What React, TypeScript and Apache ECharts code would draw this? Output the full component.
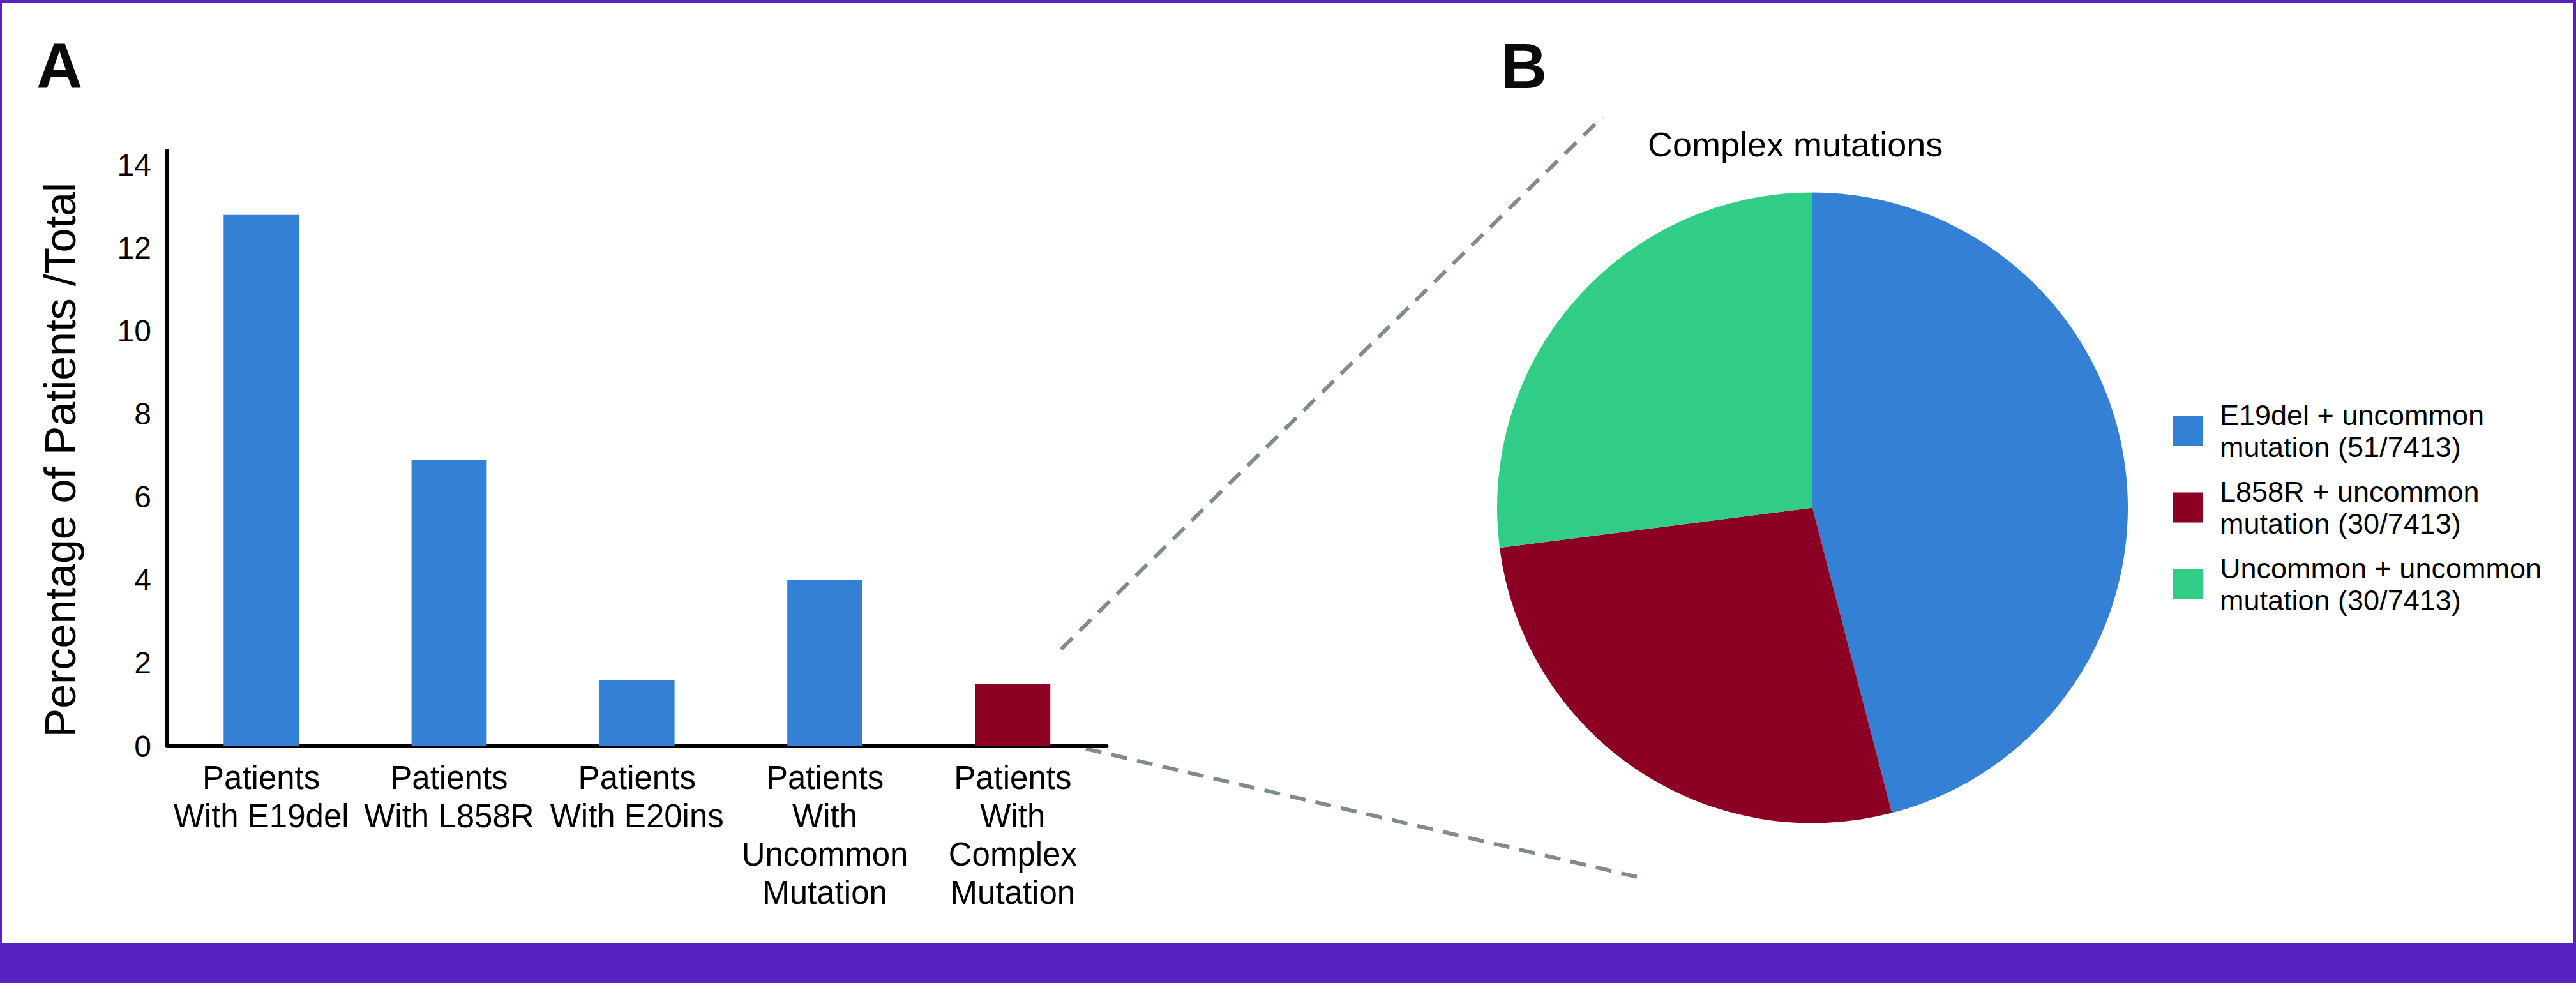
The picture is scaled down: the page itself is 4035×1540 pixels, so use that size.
import React, { useEffect, useRef } from "react";
import * as echarts from "echarts";

// ---- Data ----
const categories = [
  "Patients\nWith E19del",
  "Patients\nWith L858R",
  "Patients\nWith E20ins",
  "Patients\nWith\nUncommon\nMutation",
  "Patients\nWith\nComplex\nMutation",
];
const percentValues = [12.8, 6.9, 1.6, 4.0, 1.5];
const barColors = ["#3480d4", "#3480d4", "#3480d4", "#3480d4", "#8c0023"];
const yAxisTitle = "Percentage of Patients /Total";

const pieTitle = "Complex mutations";
const pieLabels = [
  "E19del + uncommon\nmutation (51/7413)",
  "L858R + uncommon\nmutation (30/7413)",
  "Uncommon + uncommon\nmutation (30/7413)",
];
const pieCounts = [51, 30, 30];
const pieColors = ["#3480d4", "#8c0023", "#31cd87"];

const FONT = "'Liberation Sans', Arial, Helvetica, sans-serif";
const PURPLE = "#5722c0";
const DASH = "#7f8c8b";

export default function App() {
  const ref = useRef<HTMLDivElement>(null);

  useEffect(() => {
    if (!ref.current) return;
    const chart = echarts.init(ref.current, null, {
      renderer: "svg",
      width: 4035,
      height: 1540,
    });

    const option: any = {
      animation: false,
      backgroundColor: "#ffffff",
      title: {
        text: pieTitle,
        left: 2581,
        top: 199,
        padding: 0,
        textStyle: {
          fontFamily: FONT,
          fontSize: 54,
          fontWeight: "normal",
          color: "#000000",
        },
      },
      grid: {
        left: 262,
        top: 236,
        width: 1471.5,
        height: 933,
        containLabel: false,
      },
      xAxis: {
        type: "category",
        data: categories,
        axisTick: { show: false },
        axisLine: { show: true, lineStyle: { color: "#000000", width: 6 } },
        axisLabel: {
          interval: 0,
          margin: 19,
          fontFamily: FONT,
          fontSize: 51,
          lineHeight: 60,
          color: "#000000",
          align: "center",
        },
      },
      yAxis: {
        type: "value",
        min: 0,
        max: 14.35,
        interval: 2,
        splitLine: { show: false },
        axisTick: { show: false },
        axisLine: { show: true, lineStyle: { color: "#000000", width: 6 } },
        axisLabel: {
          margin: 25,
          fontFamily: FONT,
          fontSize: 48,
          color: "#000000",
          showMaxLabel: false,
          formatter: (v: number) => (v % 2 === 0 ? String(v) : ""),
        },
        name: yAxisTitle,
        nameLocation: "middle",
        nameRotate: 90,
        nameGap: 134,
        nameTextStyle: {
          fontFamily: FONT,
          fontSize: 68,
          color: "#000000",
          padding: [0, 36, 0, 0],
        },
      },
      legend: {
        orient: "vertical",
        left: 3404,
        top: 625,
        padding: 0,
        itemGap: 20,
        itemWidth: 47,
        itemHeight: 47,
        icon: "rect",
        selectedMode: false,
        data: pieLabels,
        textStyle: {
          fontFamily: FONT,
          fontSize: 45,
          lineHeight: 50,
          color: "#000000",
          padding: [0, 0, 0, 21],
        },
      },
      series: [
        {
          type: "bar",
          data: percentValues.map((v, i) => ({
            value: v,
            itemStyle: { color: barColors[i] },
          })),
          barCategoryGap: "60%",
          silent: true,
        },
        {
          type: "pie",
          center: [2839, 795.5],
          radius: 494,
          startAngle: 90,
          clockwise: true,
          silent: true,
          label: { show: false },
          labelLine: { show: false },
          itemStyle: { borderWidth: 0 },
          data: pieLabels.map((name, i) => ({
            name,
            value: pieCounts[i],
            itemStyle: { color: pieColors[i] },
          })),
        },
      ],
      graphic: [
        // frame
        { type: "rect", shape: { x: 0, y: 0, width: 4035, height: 4 }, style: { fill: PURPLE }, z: 100 },
        { type: "rect", shape: { x: 0, y: 0, width: 3, height: 1540 }, style: { fill: PURPLE }, z: 100 },
        { type: "rect", shape: { x: 4031, y: 0, width: 4, height: 1540 }, style: { fill: PURPLE }, z: 100 },
        { type: "rect", shape: { x: 0, y: 1477, width: 4035, height: 63 }, style: { fill: PURPLE }, z: 100 },
        // panel letters
        {
          type: "text",
          x: 57,
          y: 102.5,
          style: {
            text: "A",
            font: `bold 100px ${FONT}`,
            fill: "#0a0a0a",
            textAlign: "left",
            textVerticalAlign: "middle",
          },
        },
        {
          type: "text",
          x: 2351,
          y: 102.5,
          style: {
            text: "B",
            font: `bold 100px ${FONT}`,
            fill: "#0a0a0a",
            textAlign: "left",
            textVerticalAlign: "middle",
          },
        },
        // zoom connector dashed lines
        {
          type: "line",
          shape: { x1: 1662, y1: 1017, x2: 2510, y2: 183 },
          style: { stroke: DASH, lineWidth: 6, lineDash: [25, 16] },
        },
        {
          type: "line",
          shape: { x1: 1701, y1: 1173, x2: 2578, y2: 1377 },
          style: { stroke: DASH, lineWidth: 6, lineDash: [25, 16] },
        },
      ],
    };

    chart.setOption(option);
    return () => {
      chart.dispose();
    };
  }, []);

  return (
    <div
      ref={ref}
      style={{
        position: "absolute",
        left: 0,
        top: 0,
        width: 4035,
        height: 1540,
        background: "#ffffff",
      }}
    />
  );
}
